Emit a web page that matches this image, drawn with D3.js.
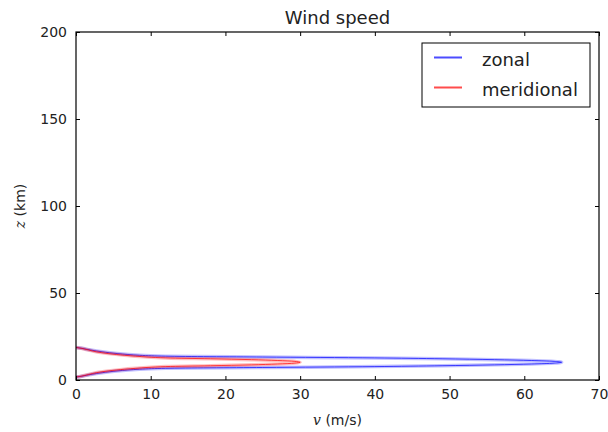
<!DOCTYPE html>
<html>
<head>
<meta charset="utf-8">
<script src="https://cdn.jsdelivr.net/npm/d3@7"></script>
<style>
  body { margin: 0; background: #fff; }
  svg { display: block; font-family: "DejaVu Sans", sans-serif; }
</style>
</head>
<body>
<div id="chart"></div>
<script>
// altitude (km) and wind speed profiles (m/s)
const altitude = [1.7, 2.2, 3.2, 4.2, 5.2, 6.2, 6.7, 7.2, 7.7, 8.2, 8.7, 9.2, 9.7, 10.2,
                  10.7, 11.2, 11.7, 12.2, 12.7, 13.2, 13.7, 14.2, 15.2, 16.2, 17.2, 18.2, 18.7];
const zonal = [0, 0.8, 2, 3.5, 5.5, 8.5, 12, 25, 40, 49, 56, 61, 64, 65,
               64, 61, 56, 49, 40, 25, 12, 8.5, 5.5, 3.5, 2, 0.8, 0];
const meridional = [0, 0.7, 1.7, 2.7, 4.3, 6.5, 8, 9.5, 12, 18, 23.5, 27, 29.3, 30,
                    29.3, 27, 23.5, 18, 12, 9.5, 8, 6.5, 4.3, 2.7, 1.7, 0.7, 0];

const xTicks = [0, 10, 20, 30, 40, 50, 60, 70];
const yTicks = [0, 50, 100, 150, 200];

const seriesNames = ["zonal", "meridional"];
const seriesColors = ["#0000ff", "#ff0000"];

const width = 608, height = 432;
const margin = { top: 32, right: 9, bottom: 52, left: 76 };

const svg = d3.select("#chart").append("svg")
    .attr("width", width)
    .attr("height", height);

const x = d3.scaleLinear().domain([0, 70]).range([margin.left, width - margin.right]);
const y = d3.scaleLinear().domain([0, 200]).range([height - margin.bottom, margin.top]);

// clip the curves to the axes box
svg.append("clipPath").attr("id", "clip")
  .append("rect")
    .attr("x", margin.left).attr("y", margin.top)
    .attr("width", x(70) - x(0)).attr("height", y(0) - y(200));

const line = d3.line()
    .x(d => x(d[1]))
    .y(d => y(d[0]))
    .curve(d3.curveCatmullRom);

const profiles = [zonal, meridional];
const plot = svg.append("g").attr("clip-path", "url(#clip)");

profiles.forEach((vals, i) => {
    const pts = altitude.map((z, k) => [z, vals[k]]);
    // soft band under the line (looks like several overlapping profiles)
    plot.append("path")
        .attr("d", line(pts))
        .attr("fill", "none")
        .attr("stroke", seriesColors[i])
        .attr("stroke-opacity", 0.25)
        .attr("stroke-width", 3.5);
    plot.append("path")
        .attr("d", line(pts))
        .attr("fill", "none")
        .attr("stroke", seriesColors[i])
        .attr("stroke-opacity", 0.7)
        .attr("stroke-width", 1);
});

// ticks inside, on all four sides
const xAxisB = d3.axisBottom(x).tickValues(xTicks).tickSizeInner(-4).tickSizeOuter(0).tickPadding(9);
const xAxisT = d3.axisTop(x).tickValues(xTicks).tickSizeInner(-4).tickSizeOuter(0).tickFormat("");
const yAxisL = d3.axisLeft(y).tickValues(yTicks).tickSizeInner(-4).tickSizeOuter(0).tickPadding(9);
const yAxisR = d3.axisRight(y).tickValues(yTicks).tickSizeInner(-4).tickSizeOuter(0).tickFormat("");

const gB = svg.append("g").attr("transform", `translate(0,${y(0)})`).call(xAxisB);
const gT = svg.append("g").attr("transform", `translate(0,${y(200)})`).call(xAxisT);
const gL = svg.append("g").attr("transform", `translate(${x(0)},0)`).call(yAxisL);
const gR = svg.append("g").attr("transform", `translate(${x(70)},0)`).call(yAxisR);

[gB, gT, gL, gR].forEach(g => {
    g.select(".domain").remove();
    g.selectAll(".tick line").attr("stroke", "#000").attr("stroke-width", 1);
    g.selectAll(".tick text")
        .attr("font-family", "DejaVu Sans, sans-serif")
        .attr("font-size", 14)
        .attr("fill", "#222");
});

// frame
svg.append("rect")
    .attr("x", x(0)).attr("y", y(200))
    .attr("width", x(70) - x(0)).attr("height", y(0) - y(200))
    .attr("fill", "none")
    .attr("stroke", "#000")
    .attr("stroke-width", 1.2);

// title
svg.append("text")
    .attr("x", (x(0) + x(70)) / 2)
    .attr("y", 24)
    .attr("text-anchor", "middle")
    .attr("font-size", 18)
    .attr("fill", "#222")
    .text("Wind speed");

// axis labels
const xl = svg.append("text")
    .attr("x", (x(0) + x(70)) / 2)
    .attr("y", 425)
    .attr("text-anchor", "middle")
    .attr("font-size", 14)
    .attr("fill", "#222");
xl.append("tspan").attr("font-family", "DejaVu Serif, serif").attr("font-style", "italic").text("v");
xl.append("tspan").text(" (m/s)");

const yl = svg.append("text")
    .attr("transform", `translate(25,${(y(0) + y(200)) / 2}) rotate(-90)`)
    .attr("text-anchor", "middle")
    .attr("font-size", 14)
    .attr("fill", "#222");
yl.append("tspan").attr("font-family", "DejaVu Serif, serif").attr("font-style", "italic").text("z");
yl.append("tspan").text(" (km)");

// legend
const legend = svg.append("g");
legend.append("rect")
    .attr("x", 422).attr("y", 43)
    .attr("width", 168).attr("height", 64)
    .attr("fill", "#fff")
    .attr("stroke", "#000")
    .attr("stroke-width", 1);

seriesNames.forEach((name, i) => {
    const ly = 57.5 + i * 30;
    legend.append("rect")
        .attr("x", 434).attr("y", ly - 1)
        .attr("width", 28).attr("height", 2)
        .attr("fill", seriesColors[i])
        .attr("fill-opacity", 0.7);
    legend.append("text")
        .attr("x", 482)
        .attr("y", ly + 8.5)
        .attr("font-size", 18)
        .attr("fill", "#222")
        .text(name);
});
</script>
</body>
</html>
